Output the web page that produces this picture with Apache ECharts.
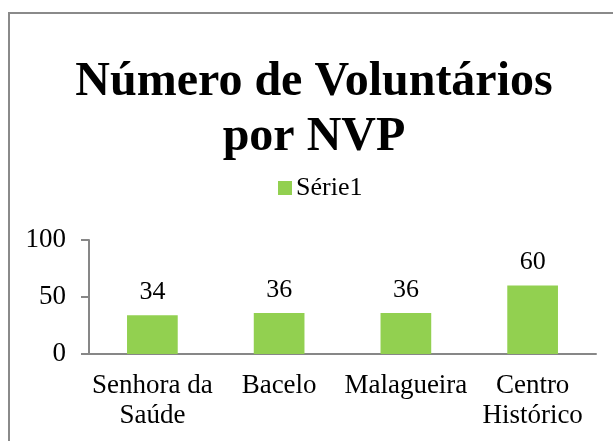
<!DOCTYPE html>
<html>
<head>
<meta charset="utf-8">
<script src="https://cdn.jsdelivr.net/npm/echarts@6/dist/echarts.min.js"></script>
<style>
  html, body { margin: 0; padding: 0; background: #fff; }
  #chart { width: 613px; height: 441px; }
</style>
</head>
<body>
<div id="chart"></div>
<script>
// dados do gráfico
const categories = ['Senhora da\nSaúde', 'Bacelo', 'Malagueira', 'Centro\nHistórico'];
const values = [34, 36, 36, 60];
const seriesName = 'Série1';
const titleText = 'Número de Voluntários\npor NVP';

const font = 'Liberation Serif, Times New Roman, serif';
const axisGray = '#878787';

let chart = echarts.init(document.getElementById('chart'));

let option = {
  animation: false,
  title: {
    text: titleText,
    left: 309,
    top: 50,
    textAlign: 'center',
    textStyle: {
      fontFamily: font,
      fontWeight: 'bold',
      fontSize: 48,
      lineHeight: 55,
      color: '#000',
    },
  },
  legend: {
    data: [seriesName],
    left: 273,
    top: 170,
    icon: 'rect',
    itemWidth: 14,
    itemHeight: 14,
    itemGap: 5,
    textStyle: { fontFamily: font, fontSize: 26, color: '#000', padding: [0, 0, 0, -1] },
  },
  graphic: [
    {
      type: 'rect',
      shape: { x: 9, y: 13, width: 700, height: 500 },
      style: { fill: 'none', stroke: '#8a8a8a', lineWidth: 2 },
      silent: true,
    },
  ],
  grid: { left: 89, right: 17, top: 240, bottom: 87 },
  xAxis: {
    type: 'category',
    data: categories,
    axisLine: { lineStyle: { color: axisGray, width: 2 } },
    axisTick: { show: false },
    axisLabel: {
      interval: 0,
      margin: 17,
      fontFamily: font,
      fontSize: 27,
      lineHeight: 30,
      color: '#000',
    },
  },
  yAxis: {
    type: 'value',
    min: 0,
    max: 100,
    interval: 50,
    splitLine: { show: false },
    axisLine: { show: true, lineStyle: { color: axisGray, width: 2 } },
    axisTick: { show: true, length: 8, lineStyle: { color: axisGray, width: 2 } },
    axisLabel: { margin: 23, fontFamily: font, fontSize: 27, color: '#000' },
  },
  series: [
    {
      name: seriesName,
      type: 'bar',
      data: values,
      barWidth: '40%',
      itemStyle: { color: '#92D050' },
      label: {
        show: true,
        position: 'top',
        distance: 10,
        fontFamily: font,
        fontSize: 26,
        color: '#000',
      },
    },
  ],
};

chart.setOption(option);
</script>
</body>
</html>
